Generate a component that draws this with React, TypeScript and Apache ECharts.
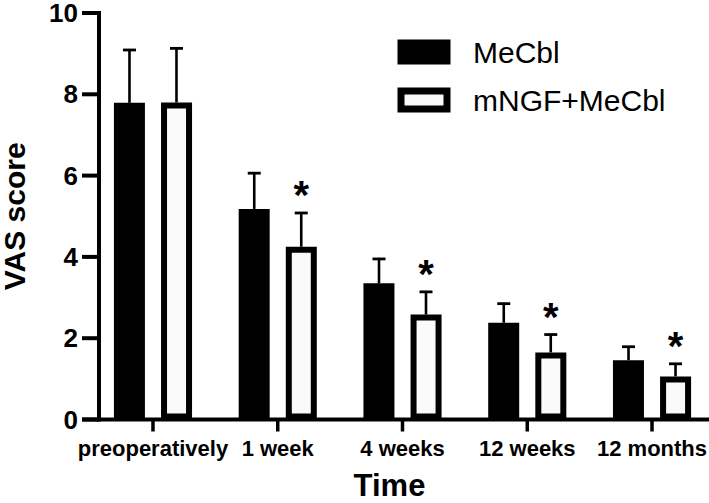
import React, { useEffect, useRef } from "react";
import * as echarts from "echarts";

const categories = ["preoperatively", "1 week", "4 weeks", "12 weeks", "12 months"];
const seriesNames = ["MeCbl", "mNGF+MeCbl"];
const meCblMean = [7.79, 5.18, 3.35, 2.38, 1.46];
const meCblUpper = [9.09, 6.06, 3.95, 2.85, 1.79];
const mngfMean = [7.8, 4.25, 2.58, 1.65, 1.06];
const mngfUpper = [9.13, 5.08, 3.14, 2.09, 1.37];
const significant = [0, 1, 1, 1, 1];
const yTicks = [0, 2, 4, 6, 8, 10];

const FONT = "'Liberation Sans', Arial, Helvetica, sans-serif";
const BAR_W = 31;
const OFF = 23.5;
const Y_AXIS_SHIFT = 8.4;

export default function App() {
  const ref = useRef<HTMLDivElement>(null);
  useEffect(() => {
    if (!ref.current) return;
    document.body.style.margin = "0";
    const chart = echarts.init(ref.current, null, { renderer: "svg" });
    const errData = categories.map((_, i) => [
      i,
      meCblUpper[i],
      mngfUpper[i],
      meCblMean[i],
      mngfMean[i],
      significant[i],
    ]);
    chart.setOption({
      animation: false,
      backgroundColor: "#ffffff",
      grid: {
        left: 90.6,
        right: -5.4,
        top: 13,
        bottom: 83.5,
        containLabel: false,
        outerBoundsMode: "none",
      },
      legend: {
        orient: "vertical",
        left: 392.5,
        top: 32,
        itemWidth: 46,
        itemHeight: 18,
        itemGap: 18,
        icon: "rect",
        textStyle: { fontFamily: FONT, fontSize: 30, color: "#000", padding: [4, 0, 0, 21] },
        data: [
          { name: seriesNames[0], itemStyle: { color: "#000", borderColor: "#000", borderWidth: 7 } },
          { name: seriesNames[1], itemStyle: { color: "#fafafa", borderColor: "#000", borderWidth: 7 } },
        ],
      },
      xAxis: {
        type: "category",
        data: categories,
        name: "Time",
        nameLocation: "middle",
        nameGap: 50,
        nameTextStyle: { fontFamily: FONT, fontSize: 31, fontWeight: "bold", color: "#000", padding: [0, 26, 0, 0] },
        axisLine: { show: false },
        axisTick: { show: false },
        axisLabel: { show: true, interval: 0, margin: 18, fontFamily: FONT, fontSize: 22, fontWeight: "bold", color: "#000" },
        splitLine: { show: false },
      },
      yAxis: {
        type: "value",
        min: 0,
        max: 10,
        interval: 2,
        offset: -Y_AXIS_SHIFT,
        name: "VAS score",
        nameLocation: "middle",
        nameGap: 70,
        nameTextStyle: { fontFamily: FONT, fontSize: 30, fontWeight: "bold", color: "#000" },
        axisLine: { show: false },
        axisTick: { show: false },
        axisLabel: {
          margin: 21,
          fontFamily: FONT,
          fontSize: 26,
          fontWeight: "bold",
          color: "#000",
          formatter: (v: number) => (yTicks.includes(v) ? String(v) : ""),
        },
        splitLine: { show: false },
      },
      series: [
        {
          name: seriesNames[0],
          type: "bar",
          data: meCblMean,
          barWidth: BAR_W,
          barGap: "52%",
          itemStyle: { color: "#000", borderColor: "#000", borderWidth: 6 },
        },
        {
          name: seriesNames[1],
          type: "bar",
          data: mngfMean,
          barWidth: BAR_W,
          barGap: "52%",
          itemStyle: { color: "#fafafa", borderColor: "#000", borderWidth: 6 },
        },
        {
          name: "errors",
          type: "custom",
          data: errData,
          encode: { x: 0, y: [1, 2] },
          z: 5,
          renderItem: (_params: any, api: any) => {
            const i = api.value(0);
            const children: any[] = [];
            const pairs = [
              [api.value(3), api.value(1), -OFF],
              [api.value(4), api.value(2), OFF],
            ];
            let capY = 0;
            let capX = 0;
            pairs.forEach(([m, u, off]) => {
              const p0 = api.coord([i, m]);
              const p1 = api.coord([i, u]);
              const x = p0[0] + off;
              children.push({
                type: "line",
                shape: { x1: x, y1: p0[1], x2: x, y2: p1[1] },
                style: { stroke: "#000", lineWidth: 2.6 },
              });
              children.push({
                type: "line",
                shape: { x1: x - 6.5, y1: p1[1], x2: x + 6.5, y2: p1[1] },
                style: { stroke: "#000", lineWidth: 2.8 },
              });
              capY = p1[1];
              capX = x;
            });
            if (api.value(5)) {
              children.push({
                type: "text",
                x: capX,
                y: capY - 18,
                style: {
                  text: "*",
                  fontFamily: FONT,
                  fontSize: 40,
                  fontWeight: "bold",
                  fill: "#000",
                  align: "center",
                  verticalAlign: "middle",
                },
              });
            }
            return { type: "group", children };
          },
        },
      ],
    });

    // Axis lines and ticks, positioned through the chart's own scales
    const px = (c: number, v: number) => chart.convertToPixel({ gridIndex: 0 }, [c, v]) as number[];
    const p00 = px(0, 0);
    const p10 = px(1, 0);
    const band = p10[0] - p00[0];
    const axisX = p00[0] - band / 2 + Y_AXIS_SHIFT;
    const y0 = p00[1];
    const yTop = px(0, 10)[1];
    const lastRight = px(categories.length - 1, 0)[0] + band / 2;
    const stroke = "#000";
    const g: any[] = [];
    g.push({
      type: "line",
      z: 10,
      shape: { x1: axisX - 17, y1: y0, x2: lastRight, y2: y0 },
      style: { stroke, lineWidth: 4 },
    });
    g.push({
      type: "line",
      z: 10,
      shape: { x1: axisX, y1: y0 + 2, x2: axisX, y2: yTop - 2 },
      style: { stroke, lineWidth: 4 },
    });
    yTicks.forEach((v) => {
      const y = px(0, v)[1];
      g.push({
        type: "line",
        z: 10,
        shape: { x1: axisX - 17, y1: y, x2: axisX, y2: y },
        style: { stroke, lineWidth: 4 },
      });
    });
    categories.forEach((_, i) => {
      const x = px(i, 0)[0];
      g.push({
        type: "line",
        z: 10,
        shape: { x1: x, y1: y0, x2: x, y2: y0 + 12 },
        style: { stroke, lineWidth: 3.5 },
      });
    });
    chart.setOption({ graphic: g });
    return () => chart.dispose();
  }, []);
  return <div ref={ref} style={{ position: "fixed", left: 0, top: 0, width: 709, height: 503 }} />;
}
